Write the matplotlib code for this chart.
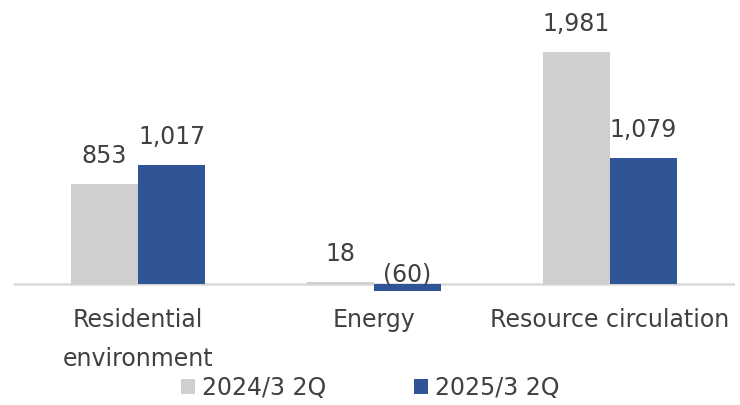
import numpy as np
import matplotlib.pyplot as plt

categories = ['Residential\nenvironment', 'Energy', 'Resource circulation']
series_names = ['2024/3 2Q', '2025/3 2Q']
values_2024 = [853, 18, 1981]
values_2025 = [1017, -60, 1079]
colors = ['#D0CECE', '#2F5597']
text_color = '#404040'

def fmt(v):
    return f'({abs(v):,})' if v < 0 else f'{v:,}'

fig = plt.figure(figsize=(7.4, 4.05), dpi=100)
ax = fig.add_axes([0.019, 0.259, 0.974, 0.741])

x = np.arange(len(categories))
w = 0.285
for i, (name, vals) in enumerate([(series_names[0], values_2024), (series_names[1], values_2025)]):
    pos = x + (i - 0.5) * w
    ax.bar(pos, vals, width=w, color=colors[i], label=name)
    for p, v in zip(pos, vals):
        if v >= 0:
            ax.annotate(fmt(v), (p, v), xytext=(0, 15), textcoords='offset points',
                        ha='center', va='baseline', fontsize=17, color=text_color)
        else:
            ax.annotate(fmt(v), (p, 0), xytext=(0, 2), textcoords='offset points',
                        ha='center', va='baseline', fontsize=17, color=text_color)

ax.axhline(0, color='#D9D9D9', linewidth=1.8, zorder=0)
ax.set_xlim(-0.525, 2.53)
ax.set_ylim(-137, 2425)
ax.set_yticks([])
ax.set_xticks(x)
ax.set_xticklabels(categories, fontsize=17, color=text_color, linespacing=1.75)
ax.tick_params(axis='x', length=0, pad=6)
for s in ax.spines.values():
    s.set_visible(False)

fig.legend(loc='center', bbox_to_anchor=(0.5, 0.042), ncol=2, frameon=False,
           fontsize=17, labelcolor=text_color, handlelength=0.6, handleheight=0.6,
           handletextpad=0.3, columnspacing=3.7)

fig.savefig('out.png', dpi=100)
